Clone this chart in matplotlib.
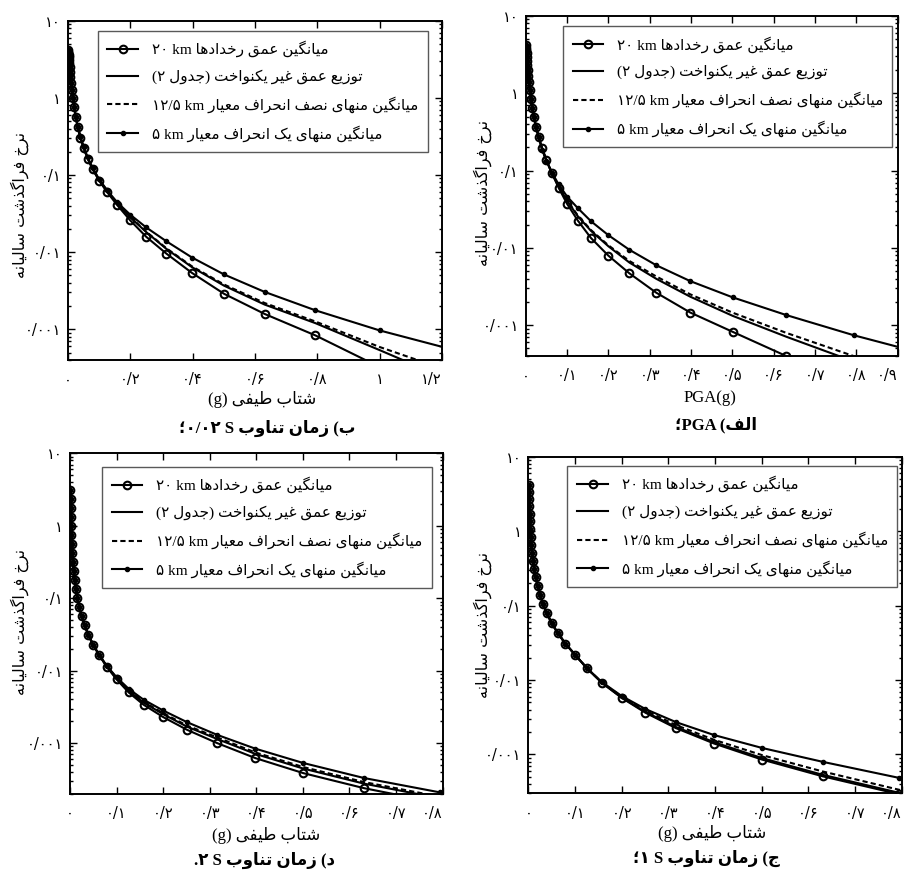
import matplotlib
matplotlib.use("Agg")
import matplotlib.pyplot as plt
from matplotlib.lines import Line2D
from matplotlib.ticker import LogLocator, NullFormatter

plt.rcParams['font.family'] = ['DejaVu Sans']

# ---------------- data (annual exceedance rate vs. acceleration in g) ----------------
x_g = [0.001, 0.00126, 0.00158, 0.002, 0.00251, 0.00316, 0.00398, 0.00501, 0.00631, 0.00794,
       0.01, 0.0126, 0.0158, 0.02, 0.0251, 0.0316, 0.0398, 0.0501, 0.0631, 0.0794,
       0.1, 0.126, 0.158, 0.2, 0.251, 0.316, 0.398, 0.501, 0.631, 0.794, 1.0, 1.259]

# low-acceleration part (first 16 points), identical for the four curves of a panel
pga_low = [4.17, 3.89, 3.59, 3.27, 2.95, 2.63, 2.32, 2.00, 1.68, 1.38, 1.10, 0.851, 0.646, 0.490, 0.363, 0.269]
sa002_low = [4.17, 3.98, 3.80, 3.63, 3.39, 3.09, 2.82, 2.51, 2.19, 1.86, 1.55, 1.26, 1.00, 0.759, 0.562, 0.417]
sa1_low = [4.17, 3.39, 2.72, 2.16, 1.72, 1.36, 1.07, 0.841, 0.661, 0.513, 0.398, 0.309, 0.240, 0.184, 0.140, 0.105]
sa2_low = [3.16, 2.37, 1.78, 1.33, 1.00, 0.750, 0.562, 0.422, 0.316, 0.237, 0.178, 0.133, 0.100, 0.0759, 0.0569, 0.0422]

# remaining 16 points of each curve
pga_20km = [0.195, 0.138, 0.0933, 0.0603, 0.0372, 0.0226, 0.0134, 0.00794, 0.00468, 0.00263, 0.00146, 0.00082, 0.000398, 0.000178, 7.94e-5, 3.16e-5]
pga_table2 = [0.188, 0.135, 0.0933, 0.0624, 0.0407, 0.0257, 0.0166, 0.0105, 0.00646, 0.00398, 0.00234, 0.00132, 0.000708, 0.000339, 0.000141, 5.62e-5]
pga_12km = [0.191, 0.136, 0.0944, 0.0631, 0.0412, 0.0263, 0.0170, 0.0108, 0.00676, 0.00427, 0.00251, 0.00145, 0.000794, 0.000398, 0.000182, 7.94e-5]
pga_5km = [0.186, 0.133, 0.0944, 0.0668, 0.0462, 0.0327, 0.0221, 0.0146, 0.00944, 0.00596, 0.00372, 0.00229, 0.00135, 0.000741, 0.000380, 0.000182]

sa002_20km = [0.305, 0.224, 0.162, 0.118, 0.0841, 0.0596, 0.0407, 0.0257, 0.0158, 0.00955, 0.00537, 0.00288, 0.00158, 0.000832, 0.000324, 0.0001]
sa002_table2 = [0.309, 0.226, 0.166, 0.120, 0.0861, 0.0617, 0.0422, 0.0282, 0.0182, 0.0110, 0.00638, 0.00367, 0.00209, 0.00120, 0.000537, 0.000191]
sa002_12km = [0.309, 0.226, 0.166, 0.120, 0.0861, 0.0617, 0.0427, 0.0285, 0.0184, 0.0112, 0.00653, 0.00380, 0.00219, 0.00126, 0.000589, 0.000257]
sa002_5km = [0.313, 0.232, 0.170, 0.123, 0.0881, 0.0631, 0.0442, 0.0305, 0.0209, 0.0138, 0.00851, 0.00513, 0.00305, 0.00176, 0.000966, 0.000513]

sa1_20km = [0.0785, 0.0582, 0.0427, 0.0309, 0.0219, 0.0143, 0.00912, 0.00575, 0.00363, 0.00226, 0.00140, 0.000851, 0.000507, 0.000292, 0.000162, 8.71e-5]
sa1_table2 = [0.0785, 0.0582, 0.0427, 0.0309, 0.0219, 0.0143, 0.00912, 0.00582, 0.00372, 0.00234, 0.00146, 0.000891, 0.000531, 0.000305, 0.000170, 9.12e-5]
sa1_12km = [0.0785, 0.0582, 0.0427, 0.0309, 0.0219, 0.0143, 0.00923, 0.00596, 0.00389, 0.00248, 0.00157, 0.000977, 0.000589, 0.000335, 0.000186, 0.0001]
sa1_5km = [0.0785, 0.0582, 0.0427, 0.0309, 0.0219, 0.0143, 0.00933, 0.00610, 0.00407, 0.00272, 0.00182, 0.00122, 0.000794, 0.000484, 0.000275, 0.000151]

sa2_20km = [0.0309, 0.0226, 0.0162, 0.0112, 0.00759, 0.00501, 0.00339, 0.00229, 0.00153, 0.001, 0.000621, 0.000385, 0.000239, 0.000148, 9.12e-5, 5.62e-5]
sa2_table2 = [0.0309, 0.0226, 0.0162, 0.0114, 0.00782, 0.00527, 0.00363, 0.00251, 0.00169, 0.00114, 0.000710, 0.000445, 0.000276, 0.000173, 0.000107, 6.58e-5]
sa2_12km = [0.0309, 0.0226, 0.0162, 0.0115, 0.00791, 0.00537, 0.00373, 0.00259, 0.00175, 0.00120, 0.000743, 0.000467, 0.000290, 0.000182, 0.000112, 6.92e-5]
sa2_5km = [0.0309, 0.0226, 0.0164, 0.0116, 0.00813, 0.00562, 0.00398, 0.00282, 0.00195, 0.00130, 0.000838, 0.000531, 0.000330, 0.000209, 0.000129, 7.94e-5]

y_ticks = [0.001, 0.01, 0.1, 1, 10]
y_ticklabels = ['۰/۰۰۱', '۰/۰۱', '۰/۱', '۱', '۱۰']
x_ticks_pga = [0, 0.1, 0.2, 0.3, 0.4, 0.5, 0.6, 0.7, 0.8, 0.9]
x_labels_pga = ['۰', '۰/۱', '۰/۲', '۰/۳', '۰/۴', '۰/۵', '۰/۶', '۰/۷', '۰/۸', '۰/۹']
x_ticks_sa002 = [0, 0.2, 0.4, 0.6, 0.8, 1.0, 1.2]
x_labels_sa002 = ['۰', '۰/۲', '۰/۴', '۰/۶', '۰/۸', '۱', '۱/۲']
x_ticks_long = [0, 0.1, 0.2, 0.3, 0.4, 0.5, 0.6, 0.7, 0.8]
x_labels_long = ['۰', '۰/۱', '۰/۲', '۰/۳', '۰/۴', '۰/۵', '۰/۶', '۰/۷', '۰/۸']

# ---------------- simple Persian shaping (presentation forms, visual order) ----------------
FORMS = {
    '\u0627': ('\uFE8D', '\uFE8E', None, None),
    '\u0628': ('\uFE8F', '\uFE90', '\uFE91', '\uFE92'),
    '\u062A': ('\uFE95', '\uFE96', '\uFE97', '\uFE98'),
    '\u062C': ('\uFE9D', '\uFE9E', '\uFE9F', '\uFEA0'),
    '\u062D': ('\uFEA1', '\uFEA2', '\uFEA3', '\uFEA4'),
    '\u062E': ('\uFEA5', '\uFEA6', '\uFEA7', '\uFEA8'),
    '\u062F': ('\uFEA9', '\uFEAA', None, None),
    '\u0630': ('\uFEAB', '\uFEAC', None, None),
    '\u0631': ('\uFEAD', '\uFEAE', None, None),
    '\u0632': ('\uFEAF', '\uFEB0', None, None),
    '\u0633': ('\uFEB1', '\uFEB2', '\uFEB3', '\uFEB4'),
    '\u0634': ('\uFEB5', '\uFEB6', '\uFEB7', '\uFEB8'),
    '\u0635': ('\uFEB9', '\uFEBA', '\uFEBB', '\uFEBC'),
    '\u0637': ('\uFEC1', '\uFEC2', '\uFEC3', '\uFEC4'),
    '\u0639': ('\uFEC9', '\uFECA', '\uFECB', '\uFECC'),
    '\u063A': ('\uFECD', '\uFECE', '\uFECF', '\uFED0'),
    '\u0641': ('\uFED1', '\uFED2', '\uFED3', '\uFED4'),
    '\u0642': ('\uFED5', '\uFED6', '\uFED7', '\uFED8'),
    '\u0644': ('\uFEDD', '\uFEDE', '\uFEDF', '\uFEE0'),
    '\u0645': ('\uFEE1', '\uFEE2', '\uFEE3', '\uFEE4'),
    '\u0646': ('\uFEE5', '\uFEE6', '\uFEE7', '\uFEE8'),
    '\u0647': ('\uFEE9', '\uFEEA', '\uFEEB', '\uFEEC'),
    '\u0648': ('\uFEED', '\uFEEE', None, None),
    '\u06A9': ('\uFB8E', '\uFB8F', '\uFB90', '\uFB91'),
    '\u06AF': ('\uFB92', '\uFB93', '\uFB94', '\uFB95'),
    '\u06CC': ('\uFBFC', '\uFBFD', '\uFBFE', '\uFBFF'),
}


def shape(s):
    s = s.replace('\u064A', '\u06CC').replace('\u0643', '\u06A9')
    out = []
    for i, ch in enumerate(s):
        f = FORMS.get(ch)
        if f is None:
            out.append(ch)
            continue
        prev = s[i - 1] if i > 0 else ''
        nxt = s[i + 1] if i + 1 < len(s) else ''
        jp = prev in FORMS and FORMS[prev][2] is not None
        jn = f[2] is not None and nxt in FORMS
        if jp and jn:
            out.append(f[3])
        elif jp:
            out.append(f[1])
        elif jn:
            out.append(f[2])
        else:
            out.append(f[0])
    return ''.join(out)


def rtl(s):
    return shape(s)[::-1]


SERIF = ['Liberation Serif', 'DejaVu Sans']

legend_labels = [
    '۲۰ km ' + rtl('میانگین عمق رخدادها'),
    '(۲ ' + rtl('جدول') + ') ' + rtl('توزیع عمق غیر یکنواخت'),
    '۱۲/۵ km ' + rtl('میانگین منهای نصف انحراف معیار'),
    '۵ km ' + rtl('میانگین منهای یک انحراف معیار'),
]
styles = [
    dict(ls='-', marker='o', ms=5.5, mfc='none', mew=1.5),
    dict(ls='-'),
    dict(ls=(0, (2.5, 1.5))),
    dict(ls='-', marker='o', ms=3),
]
ylabel_txt = rtl('نرخ فراگذشت سالیانه')
xlabel_sa = '(g) ' + rtl('شتاب طیفی')

W, H = 905, 871
fig = plt.figure(figsize=(W / 100, H / 100), dpi=100)

panels = [
    dict(rect=[0.0751, 0.5867, 0.4133, 0.3896], low=sa002_low,
         curves=[sa002_20km, sa002_table2, sa002_12km, sa002_5km],
         xmax=1.2, xt=x_ticks_sa002, xl=x_labels_sa002, ymin=4e-4,
         xlab=xlabel_sa, cap='؛۰/۰۲ S ' + rtl('زمان تناوب') + ' (' + rtl('ب'),
         leg=(0.079, 0.9705, 0.883), ylab=(20, 205), xlabp=(262, 400), capp=(267, 428)),
    dict(rect=[0.5809, 0.5913, 0.4110, 0.3904], low=pga_low,
         curves=[pga_20km, pga_table2, pga_12km, pga_5km],
         xmax=0.9, xt=x_ticks_pga, xl=x_labels_pga, ymin=4e-4,
         xlab='PGA(g)', cap='؛PGA (' + rtl('الف'),
         leg=(0.100, 0.9706, 0.886), ylab=(483, 193), xlabp=(710, 398), capp=(716, 425)),
    dict(rect=[0.0773, 0.0887, 0.4118, 0.3908], low=sa2_low,
         curves=[sa2_20km, sa2_table2, sa2_12km, sa2_5km],
         xmax=0.8, xt=x_ticks_long, xl=x_labels_long, ymin=2e-4,
         xlab=xlabel_sa, cap='.۲ S ' + rtl('زمان تناوب') + ' (' + rtl('د'),
         leg=(0.0859, 0.9606, 0.885), ylab=(20, 622), xlabp=(266, 835), capp=(264, 860)),
    dict(rect=[0.5838, 0.0892, 0.4126, 0.3863], low=sa1_low,
         curves=[sa1_20km, sa1_table2, sa1_12km, sa1_5km],
         xmax=0.8, xt=x_ticks_long, xl=x_labels_long, ymin=3e-4,
         xlab=xlabel_sa, cap='؛۱ S ' + rtl('زمان تناوب') + ' (' + rtl('ج'),
         leg=(0.1044, 0.9734, 0.884), ylab=(483, 625), xlabp=(712, 833), capp=(706, 858)),
]

for p in panels:
    ax = fig.add_axes(p['rect'])
    for vals, st in zip(p['curves'], styles):
        ax.plot(x_g, p['low'] + vals, color='k', lw=1.5, **st)
    ax.set_yscale('log')
    ax.set_xlim(0, p['xmax'])
    ax.set_ylim(p['ymin'], 10)
    ax.set_yticks(y_ticks, y_ticklabels, fontsize=10.5)
    ax.yaxis.set_minor_locator(LogLocator(base=10, subs=range(2, 10), numticks=20))
    ax.yaxis.set_minor_formatter(NullFormatter())
    ax.set_xticks(p['xt'], p['xl'], fontsize=10.5)
    # keep the last x label inside the figure
    ax.get_xticklabels()[-1].set_horizontalalignment('right')
    ax.tick_params(which='both', direction='in', top=True, right=True, width=1)
    ax.tick_params(which='major', length=5)
    ax.tick_params(which='minor', length=2.5)
    ax.tick_params(axis='x', pad=9)
    ax.tick_params(axis='y', pad=5)
    for sp in ax.spines.values():
        sp.set_linewidth(1.4)

    handles = [Line2D([], [], color='k', lw=1.5, **st) for st in styles]
    lx, ly, lw_ = p['leg']
    leg = ax.legend(handles, legend_labels, loc='upper left', mode='expand',
                    bbox_to_anchor=(lx, ly - 0.5, lw_, 0.5), borderaxespad=0,
                    prop=dict(family=SERIF, size=11), handlelength=2.0,
                    handletextpad=0.9, labelspacing=0.8, borderpad=0.65,
                    fancybox=False, framealpha=1, edgecolor='0.35')
    leg.get_frame().set_linewidth(1.0)

    bx, by = p['ylab']
    fig.text(bx / W, 1 - by / H, ylabel_txt, rotation=90, ha='center', va='center', fontsize=11.5)
    tx, ty = p['xlabp']
    fig.text(tx / W, 1 - ty / H, p['xlab'], ha='center', va='center', fontsize=12, family=SERIF)
    cx, cy = p['capp']
    fig.text(cx / W, 1 - cy / H, p['cap'], ha='center', va='center', fontsize=12,
             fontweight='bold', family=SERIF)

fig.savefig('out.png', dpi=100)
